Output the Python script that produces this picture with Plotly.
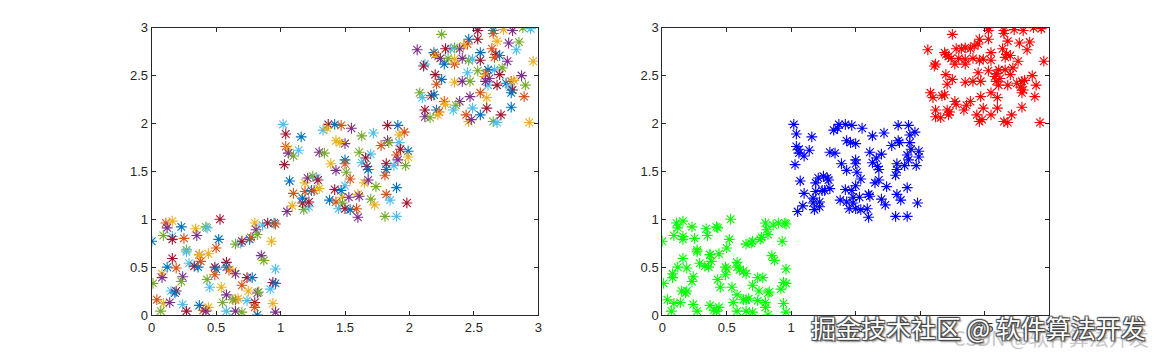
import plotly.graph_objects as go

# ---- data ----
green_x = [0.00,0.11,0.16,0.12,0.09,0.16,0.16,0.23,0.25,0.34,0.35,0.42,0.43,0.53,0.52,0.50,0.44,0.37,0.27,0.27,
           0.16,0.12,0.19,0.08,0.08,0.01,0.29,0.33,0.36,0.38,0.37,0.24,0.23,0.15,0.19,0.18,0.04,0.09,0.14,0.07,
           0.24,0.27,0.37,0.40,0.44,0.42,0.43,0.45,0.49,0.50,0.49,0.54,0.58,0.55,0.58,0.58,0.58,0.60,0.63,0.65,
           0.65,0.69,0.70,0.76,0.77,0.80,0.81,0.82,0.86,0.90,0.95,0.96,0.93,0.85,0.87,0.96,0.74,0.78,0.70,0.75,
           0.82,0.83,0.92,0.94,0.96,0.65,0.67,0.65,0.70,0.74,0.80,0.82,0.80,0.94,0.96,0.63]
green_y = [0.77,0.96,0.98,0.91,0.83,0.82,0.79,0.92,0.80,0.90,0.83,0.92,0.91,1.00,0.79,0.70,0.64,0.63,0.68,0.66,
           0.59,0.50,0.49,0.43,0.39,0.33,0.54,0.51,0.50,0.56,0.63,0.40,0.35,0.25,0.25,0.23,0.16,0.12,0.13,0.04,
           0.11,0.04,0.10,0.05,0.08,0.04,0.37,0.29,0.50,0.48,0.42,0.29,0.21,0.13,0.04,0.55,0.50,0.47,0.46,0.43,
           0.74,0.75,0.77,0.79,0.81,0.96,0.89,0.84,0.94,0.96,0.96,0.95,0.77,0.62,0.57,0.48,0.39,0.39,0.31,0.25,
           0.23,0.24,0.27,0.34,0.33,0.16,0.17,0.04,0.03,0.15,0.13,0.00,0.08,0.12,0.03,0.16]

blue_x = [1.02,1.04,1.16,1.04,1.06,1.06,1.10,1.14,1.03,1.07,1.10,1.09,1.05,1.18,1.22,1.17,1.17,1.19,1.19,1.21,
          1.25,1.28,1.29,1.24,1.26,1.30,1.30,1.34,1.33,1.37,1.42,1.47,1.36,1.55,1.63,1.72,1.83,1.91,1.96,1.92,
          1.83,1.84,1.92,1.93,1.99,1.90,1.99,1.91,1.97,1.88,1.82,1.82,1.81,1.43,1.50,1.61,1.70,1.66,1.50,1.50,
          1.39,1.43,1.51,1.63,1.67,1.68,1.54,1.65,1.68,1.74,1.50,1.42,1.90,1.82,1.60,1.61,1.70,1.85,1.98,1.38,
          1.43,1.48,1.53,1.48,1.45,1.50,1.54,1.59,1.73,1.60,1.81,1.90,1.22,1.47,1.78,1.46]
blue_y = [1.99,1.89,1.86,1.76,1.73,1.69,1.66,1.72,1.57,1.40,1.27,1.14,1.08,1.10,1.13,1.17,1.22,1.29,1.38,1.43,
          1.45,1.43,1.41,1.30,1.30,1.32,1.70,1.69,1.93,1.99,1.99,1.98,1.95,1.95,1.87,1.90,1.98,1.98,1.91,1.88,
          1.82,1.80,1.80,1.73,1.71,1.67,1.65,1.62,1.56,1.56,1.58,1.52,1.46,1.82,1.79,1.70,1.68,1.64,1.62,1.58,
          1.58,1.51,1.49,1.59,1.55,1.52,1.42,1.38,1.41,1.34,1.35,1.31,1.33,1.26,1.26,1.24,1.21,1.20,1.17,1.20,
          1.18,1.23,1.23,1.17,1.11,1.11,1.10,1.11,1.15,1.02,1.03,1.03,1.18,1.30,1.77,1.80]

red_x = [2.06,2.25,2.53,2.53,2.65,2.65,2.73,2.80,2.88,2.94,2.53,2.46,2.45,2.42,2.39,2.35,2.32,2.28,2.19,2.20,
         2.22,2.24,2.30,2.12,2.11,2.27,2.35,2.35,2.41,2.46,2.49,2.55,2.55,2.64,2.68,2.77,2.85,2.83,2.67,2.70,
         2.66,2.96,2.76,2.72,2.66,2.70,2.61,2.59,2.58,2.62,2.53,2.45,2.20,2.25,2.21,2.35,2.41,2.47,2.61,2.68,
         2.75,2.79,2.81,2.87,2.90,2.78,2.80,2.79,2.55,2.60,2.47,2.08,2.10,2.17,2.19,2.27,2.28,2.39,2.36,2.34,
         2.12,2.21,2.23,2.22,2.12,2.16,2.49,2.60,2.55,2.44,2.46,2.48,2.65,2.68,2.71,2.79,2.89,2.93,2.59]
red_y = [2.77,2.93,3.00,2.97,2.97,2.94,2.98,2.97,3.00,2.99,2.88,2.88,2.83,2.81,2.78,2.79,2.78,2.78,2.74,2.72,
         2.70,2.68,2.68,2.62,2.60,2.62,2.62,2.67,2.68,2.66,2.67,2.66,2.74,2.78,2.86,2.84,2.85,2.77,2.72,2.71,
         2.69,2.65,2.65,2.58,2.56,2.51,2.56,2.52,2.49,2.47,2.55,2.53,2.51,2.46,2.41,2.43,2.44,2.44,2.40,2.40,
         2.42,2.44,2.45,2.50,2.40,2.38,2.35,2.32,2.32,2.27,2.28,2.32,2.27,2.29,2.30,2.23,2.20,2.23,2.19,2.14,
         2.14,2.14,2.12,2.09,2.07,2.06,2.16,2.16,2.09,2.09,2.02,2.04,2.02,2.01,2.09,2.17,2.28,2.01,2.44]

tick_vals = [0, 0.5, 1, 1.5, 2, 2.5, 3]
tick_text = ["0", "0.5", "1", "1.5", "2", "2.5", "3"]

matlab_colors = ["#0072BD", "#D95319", "#EDB120", "#7E2F8E", "#77AC30", "#4DBEEE", "#A2142F"]

all_x = green_x + blue_x + red_x
all_y = green_y + blue_y + red_y
point_colors = [matlab_colors[i % len(matlab_colors)] for i in range(len(all_x))]

fig = go.Figure()

MSIZE = 9
MLW = 1.1

fig.add_trace(go.Scatter(
    x=all_x, y=all_y, mode="markers", xaxis="x", yaxis="y",
    marker=dict(symbol="asterisk-open", size=MSIZE, color=point_colors,
                line=dict(width=MLW, color=point_colors)),
    showlegend=False, hoverinfo="skip"))

for xs, ys, col in [(green_x, green_y, "#00FF00"), (blue_x, blue_y, "#0000FF"), (red_x, red_y, "#FF0000")]:
    fig.add_trace(go.Scatter(
        x=xs, y=ys, mode="markers", xaxis="x2", yaxis="y2",
        marker=dict(symbol="asterisk-open", size=MSIZE, color=col,
                    line=dict(width=MLW, color=col)),
        showlegend=False, hoverinfo="skip"))

W, H = 1161, 355
ytop, ybot = 27.7, 315.0
ydom = [1 - ybot / H, 1 - ytop / H]

axis_common = dict(range=[0, 3], tickvals=tick_vals, ticktext=tick_text,
                   showgrid=False, zeroline=False, showline=True, linecolor="#262626",
                   linewidth=1, mirror="ticks", ticks="inside", ticklen=4,
                   tickcolor="#262626", automargin=False,
                   tickfont=dict(size=13, color="#262626", family="Liberation Sans, Arial"))

fig.update_layout(
    width=W, height=H,
    margin=dict(l=0, r=0, t=0, b=0, pad=0, autoexpand=False),
    paper_bgcolor="white", plot_bgcolor="white",
    xaxis=dict(domain=[151.7 / W, 538.3 / W], anchor="y", **axis_common),
    yaxis=dict(domain=ydom, anchor="x", **axis_common),
    xaxis2=dict(domain=[662.3 / W, 1049.0 / W], anchor="y2", **axis_common),
    yaxis2=dict(domain=ydom, anchor="x2", **axis_common),
)

# watermarks
fig.add_annotation(x=1051 / W, y=1 - 337 / H, xref="paper", yref="paper",
                   xanchor="center", yanchor="middle",
                   text="CSDN @软件算法开发", showarrow=False,
                   font=dict(size=20, color="rgba(190,190,190,0.85)",
                             family="Noto Sans CJK SC"))
fig.add_annotation(x=978 / W, y=1 - 327 / H, xref="paper", yref="paper",
                   xanchor="center", yanchor="middle",
                   text="掘金技术社区\u00a0@\u00a0软件算法开发", showarrow=False,
                   font=dict(size=25, color="white", family="Noto Sans CJK SC",
                             shadow="1px 1px 1px #444, -1px -1px 1px #444, 1px -1px 1px #444, -1px 1px 1px #444, 2px 2px 2px #888"))

fig.write_html("out.html")
